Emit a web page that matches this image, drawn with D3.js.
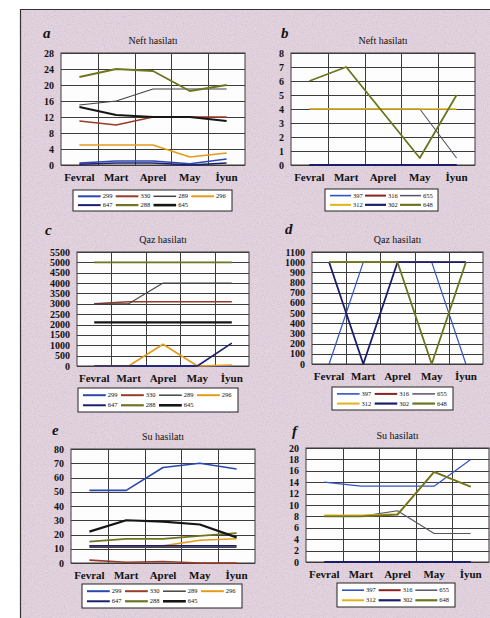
<!DOCTYPE html>
<html>
<head>
<meta charset="utf-8">
<script src="https://cdn.jsdelivr.net/npm/d3@7"></script>
<style>
  body { margin: 0; background: #fff; }
  text { font-family: "Liberation Serif", "DejaVu Serif", serif; fill: #111; }
</style>
</head>
<body>
<script>
    var w = 490;
    var h = 618;

    // months on the x axis
    var months = ["Fevral", "Mart", "Aprel", "May", "İyun"];

    // well numbers (two groups)
    var wellsA = ["299", "330", "289", "296", "647", "288", "645"];
    var wellsB = ["397", "316", "655", "312", "302", "648"];

    // Neft hasilatı (a), order of wellsA
    var neftA = [
        [0.5, 1, 1, 0.3, 1.5],
        [11, 10, 12, 12, 12],
        [15, 16, 19, 19, 19],
        [5, 5, 5, 2, 3],
        [0.2, 0.5, 0.5, 0, 0.5],
        [22, 24, 23.5, 18.5, 20],
        [14.5, 12.5, 12, 12, 11]
    ];
    // Neft hasilatı (b), order of wellsB
    var neftB = [
        [0, 0, 0, 0, 0],
        [0, 0, 0, 0, 0],
        [4, 4, 4, 4, 0.5],
        [4, 4, 4, 4, 4],
        [0, 0, 0, 0, 0],
        [6, 7, 3.75, 0.5, 5]
    ];
    // Qaz hasilatı (c)
    var qazA = [
        [0, 0, 0, 0, 0],
        [3000, 3100, 3100, 3100, 3100],
        [3000, 3000, 4000, 4000, 4000],
        [0, 0, 1050, 0, 50],
        [0, 0, 0, 0, 1100],
        [5000, 5000, 5000, 5000, 5000],
        [2100, 2100, 2100, 2100, 2100]
    ];
    // Qaz hasilatı (d)
    var qazB = [
        [0, 1000, 1000, 1000, 0],
        [1000, 1000, 1000, 1000, 1000],
        [1000, 1000, 1000, 1000, 1000],
        [1000, 1000, 1000, 1000, 1000],
        [1000, 0, 1000, 1000, 1000],
        [1000, 1000, 1000, 0, 1000]
    ];
    // Su hasilatı (e)
    var suA = [
        [51, 51, 67, 70, 66],
        [2, 0.5, 1, 0, 0],
        [11, 11, 11, 11, 11],
        [12, 12, 12, 16, 17],
        [12, 12, 12, 12, 12],
        [15, 17, 17, 19, 21],
        [22, 30, 29, 27, 18]
    ];
    // Su hasilatı (f)
    var suB = [
        [14, 13.3, 13.3, 13.3, 18],
        [0, 0, 0, 0, 0],
        [8, 8, 9, 5, 5],
        [8.2, 8.2, 8.4, 15.8, 13.2],
        [0, 0, 0, 0, 0],
        [8, 8, 8.3, 15.8, 13.2]
    ];

    // y tick labels
    var ticksNeftA = [0, 4, 8, 12, 16, 20, 24, 28];
    var ticksNeftB = [0, 1, 2, 3, 4, 5, 6, 7, 8];
    var ticksQazA = [0, 500, 1000, 1500, 2000, 2500, 3000, 3500, 4000, 4500, 5000, 5500];
    var ticksQazB = [0, 100, 200, 300, 400, 500, 600, 700, 800, 900, 1000, 1100];
    var ticksSuA = [0, 10, 20, 30, 40, 50, 60, 70, 80];
    var ticksSuB = [0, 2, 4, 6, 8, 10, 12, 14, 16, 18, 20];

    // line styles per well
    var styleA = {
        "299": { c: "#2a48b0", sw: 1.6 },
        "330": { c: "#9a3a28", sw: 1.6 },
        "289": { c: "#444444", sw: 1.1 },
        "296": { c: "#e59a1c", sw: 1.6 },
        "647": { c: "#1d1d70", sw: 1.6 },
        "288": { c: "#6f7420", sw: 1.8 },
        "645": { c: "#151515", sw: 2.2 }
    };
    var styleB = {
        "397": { c: "#3352c4", sw: 1.2 },
        "316": { c: "#8a2222", sw: 1.6 },
        "655": { c: "#555566", sw: 1.1 },
        "312": { c: "#e2b21e", sw: 1.6 },
        "302": { c: "#1c1c6c", sw: 1.8 },
        "648": { c: "#6d7420", sw: 1.8 }
    };

    var svg = d3.select("body")
                .append("svg")
                .attr("width", w)
                .attr("height", h);

    // speckled page background
    var defs = svg.append("defs");
    var flt = defs.append("filter").attr("id", "grain")
                  .attr("x", 0).attr("y", 0).attr("width", "100%").attr("height", "100%");
    flt.append("feTurbulence").attr("type", "fractalNoise")
       .attr("baseFrequency", 0.9).attr("numOctaves", 2).attr("seed", 3);
    flt.append("feColorMatrix").attr("type", "matrix")
       .attr("values", "0 0 0 0 0.45  0 0 0 0 0.35  0 0 0 0 0.5  0 0 0 1.4 -0.6");

    svg.append("rect").attr("width", w).attr("height", h).attr("fill", "#fff");
    svg.append("rect").attr("x", 21).attr("y", 10).attr("width", w - 21).attr("height", h - 10)
       .attr("fill", "#e2d3de");
    svg.append("rect").attr("x", 21).attr("y", 10).attr("width", w - 21).attr("height", h - 10)
       .attr("filter", "url(#grain)").attr("opacity", 0.5);
    svg.append("path").attr("d", "M20.5," + h + "V9.5H" + w)
       .attr("fill", "none").attr("stroke", "#333").attr("stroke-width", 1.2);

    var panels = [
        { letter: "a", title: "Neft hasilatı", data: neftA, wells: wellsA, style: styleA, ticks: ticksNeftA,
          x: 61, y: 53, pw: 184, ph: 112, lx: 43, ly: 38, leg: { x: 73, y: 190, w: 159, h: 21, cols: 4 } },
        { letter: "b", title: "Neft hasilatı", data: neftB, wells: wellsB, style: styleB, ticks: ticksNeftB,
          x: 291, y: 53, pw: 184, ph: 112, lx: 281, ly: 38, leg: { x: 325, y: 189, w: 113, h: 22, cols: 3 } },
        { letter: "c", title: "Qaz hasilatı", data: qazA, wells: wellsA, style: styleA, ticks: ticksQazA,
          x: 77, y: 252, pw: 172, ph: 114, lx: 45, ly: 235, leg: { x: 78, y: 388, w: 160, h: 24, cols: 4 } },
        { letter: "d", title: "Qaz hasilatı", data: qazB, wells: wellsB, style: styleB, ticks: ticksQazB,
          x: 312, y: 252, pw: 171, ph: 112, lx: 285, ly: 234, leg: { x: 332, y: 387, w: 121, h: 23, cols: 3 } },
        { letter: "e", title: "Su hasilatı", data: suA, wells: wellsA, style: styleA, ticks: ticksSuA,
          x: 71, y: 449, pw: 184, ph: 114, lx: 52, ly: 435, leg: { x: 82, y: 584, w: 160, h: 24, cols: 4 } },
        { letter: "f", title: "Su hasilatı", data: suB, wells: wellsB, style: styleB, ticks: ticksSuB,
          x: 306, y: 448, pw: 183, ph: 114, lx: 292, ly: 436, leg: { x: 337, y: 583, w: 118, h: 24, cols: 3 } }
    ];

    panels.forEach(function(p) {
        var g = svg.append("g");

        var x = d3.scaleBand().domain(months).range([p.x, p.x + p.pw]).padding(0);
        var ymax = d3.max(p.ticks);
        var y = d3.scaleLinear().domain([0, ymax]).range([p.y + p.ph, p.y]);

        // plot area
        g.append("rect").attr("x", p.x).attr("y", p.y).attr("width", p.pw).attr("height", p.ph)
         .attr("fill", "#fdfdfd").attr("stroke", "#3a3a3a").attr("stroke-width", 1);

        // horizontal grid
        g.selectAll(".hg").data(p.ticks).enter().append("line")
         .attr("x1", p.x).attr("x2", p.x + p.pw)
         .attr("y1", d => Math.round(y(d)) + 0.5).attr("y2", d => Math.round(y(d)) + 0.5)
         .attr("stroke", "#3c3c3c").attr("stroke-width", 1);

        // vertical grid at category boundaries
        g.selectAll(".vg").data(months.slice(1)).enter().append("line")
         .attr("x1", d => Math.round(x(d)) + 0.5).attr("x2", d => Math.round(x(d)) + 0.5)
         .attr("y1", p.y).attr("y2", p.y + p.ph)
         .attr("stroke", "#3c3c3c").attr("stroke-width", 1);

        // y axis labels
        g.selectAll(".yl").data(p.ticks).enter().append("text")
         .attr("x", p.x - 7).attr("y", d => y(d) + 3.5)
         .attr("text-anchor", "end").attr("font-size", 10).attr("font-weight", "bold")
         .text(d => d);

        // x axis labels
        g.selectAll(".xl").data(months).enter().append("text")
         .attr("x", d => x(d) + x.bandwidth() / 2).attr("y", p.y + p.ph + 16)
         .attr("text-anchor", "middle").attr("font-size", 11).attr("font-weight", "bold")
         .text(d => d);

        // title and letter
        g.append("text").attr("x", p.x + p.pw / 2).attr("y", p.y - 9)
         .attr("text-anchor", "middle").attr("font-size", 10).text(p.title);
        g.append("text").attr("x", p.lx).attr("y", p.ly)
         .attr("font-size", 15).attr("font-weight", "bold").attr("font-style", "italic").text(p.letter);

        // series lines
        var line = d3.line()
                     .x((d, i) => x(months[i]) + x.bandwidth() / 2)
                     .y(d => y(d));

        g.selectAll(".series").data(p.data).enter().append("path")
         .attr("d", d => line(d))
         .attr("fill", "none")
         .attr("stroke", (d, i) => p.style[p.wells[i]].c)
         .attr("stroke-width", (d, i) => p.style[p.wells[i]].sw)
         .attr("stroke-linejoin", "round");

        // legend
        var L = p.leg;
        g.append("rect").attr("x", L.x).attr("y", L.y).attr("width", L.w).attr("height", L.h)
         .attr("fill", "#fff").attr("stroke", "#222").attr("stroke-width", 1);
        var colW = (L.w - 8) / L.cols;
        var items = g.selectAll(".li").data(p.wells).enter().append("g")
         .attr("transform", function(d, i) {
             var cx = L.x + 5 + (i % L.cols) * colW;
             var cy = L.y + L.h * (i < L.cols ? 0.3 : 0.72);
             return "translate(" + cx + "," + cy + ")";
         });
        items.append("line").attr("x1", 0).attr("x2", colW * 0.6).attr("y1", 0).attr("y2", 0)
             .attr("stroke", d => p.style[d].c).attr("stroke-width", d => p.style[d].sw + 0.4);
        items.append("text").attr("x", colW * 0.6 + 2).attr("y", 2).attr("font-size", 6.5)
             .text(d => d);
    });
</script>
</body>
</html>
